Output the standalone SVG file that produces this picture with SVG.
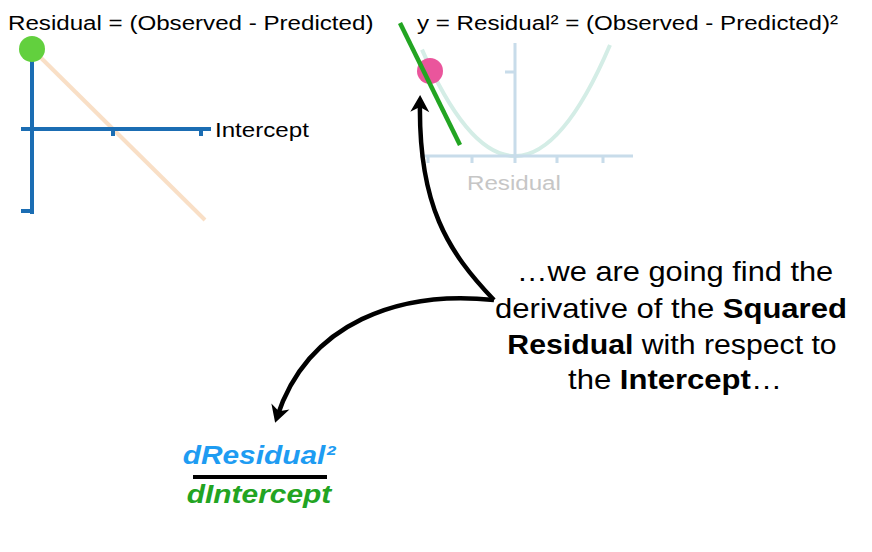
<svg xmlns="http://www.w3.org/2000/svg" width="872" height="552" viewBox="0 0 872 552">
<style>
  text { font-family: "Liberation Sans", Arial, Helvetica, sans-serif; fill: #000; }
  .t21 { font-size: 21px; }
  .main { font-size: 27px; text-anchor: middle; }
  .b { font-weight: bold; }
  .frac { font-size: 26px; font-weight: bold; font-style: italic; text-anchor: middle; }
  .axisL { stroke: #1b6db3; stroke-width: 4; fill: none; }
  .axisR { stroke: #c8dcea; stroke-width: 3; fill: none; }
  .arrow { stroke: #000; stroke-width: 4.5; fill: none; marker-end: url(#head); }
</style>
<defs>
  <marker id="head" markerUnits="userSpaceOnUse" markerWidth="40" markerHeight="40" refX="0" refY="0" viewBox="-20 -20 40 40" orient="auto" overflow="visible">
    <path d="M6,0 L-11,-9.5 L-6,0 L-11,9.5 Z" fill="#000"/>
  </marker>
</defs>
<rect width="872" height="552" fill="#fff"/>

<g id="left-chart">
  <line x1="32" y1="49" x2="205" y2="220" stroke="#f9dfc6" stroke-width="4"/>
  <path class="axisL" d="M32,52 V214 M21,211 H32 M21,129 H211 M113,129 V136 M201,129 V136"/>
  <circle cx="32" cy="49" r="13" fill="#62d03e"/>
  <text class="t21" transform="translate(8,30) scale(1.15,1)">Residual = (Observed - Predicted)</text>
  <text class="t21" transform="translate(215,137) scale(1.15,1)">Intercept</text>
</g>

<g id="right-chart">
  <path d="M422,49.6 Q516,264.7 610,45" stroke="#d4ede6" stroke-width="4" fill="none"/>
  <path class="axisR" d="M515,43 V156 M420,156 H633 M505,72 H515 M428,156 V163 M472,156 V163 M515,156 V163 M557,156 V163 M603,156 V163"/>
  <circle cx="430" cy="71" r="13" fill="#ea559c"/>
  <line x1="400" y1="23" x2="460" y2="145" stroke="#22a522" stroke-width="4.5"/>
  <text class="t21" transform="translate(417,30) scale(1.15,1)">y = Residual² = (Observed - Predicted)²</text>
  <text class="t21" transform="translate(467,190) scale(1.15,1)" style="fill:#c6c6c6">Residual</text>
</g>

<g id="connectors">
  <path class="arrow" d="M494,300 C448,252 418,205 420,101"/>
  <path class="arrow" d="M494,300 C400,290 308,322 277,417"/>
</g>

<g id="explanation">
  <text class="main" transform="translate(675,281) scale(1.14,1)">…we are going find the</text>
  <text class="main" transform="translate(671,317.5) scale(1.15,1)">derivative of the <tspan class="b">Squared</tspan></text>
  <text class="main" transform="translate(672,354) scale(1.12,1)"><tspan class="b">Residual</tspan> with respect to</text>
  <text class="main" transform="translate(675,389) scale(1.15,1)">the <tspan class="b">Intercept</tspan>…</text>
</g>

<g id="fraction">
  <text class="frac" transform="translate(259,464) scale(1.15,1)" style="fill:#1e9cf2">dResidual²</text>
  <line x1="193" y1="477" x2="327" y2="477" stroke="#000" stroke-width="4"/>
  <text class="frac" transform="translate(259,503) scale(1.15,1)" style="fill:#22a422">dIntercept</text>
</g>
</svg>
